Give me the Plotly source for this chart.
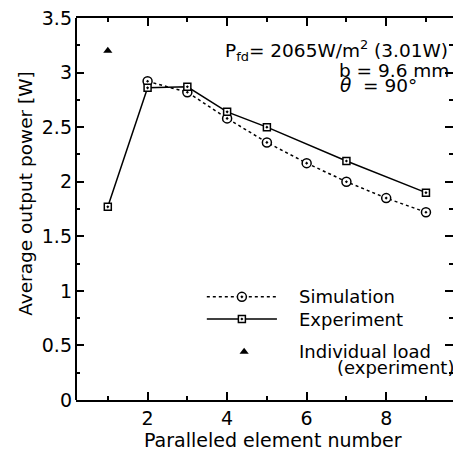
import plotly.graph_objects as go

# Data
sim_x = [2, 3, 4, 5, 6, 7, 8, 9]
sim_y = [2.92, 2.82, 2.58, 2.36, 2.17, 2.00, 1.85, 1.72]
exp_x = [1, 2, 3, 4, 5, 7, 9]
exp_y = [1.77, 2.86, 2.87, 2.64, 2.50, 2.19, 1.90]
ind_x = [1]
ind_y = [3.20]

FONT = "DejaVu Sans"
fig = go.Figure()

fig.add_trace(go.Scatter(x=sim_x, y=sim_y, mode="lines+markers",
    line=dict(color="black", width=1.5, dash="dot"),
    marker=dict(symbol="circle-dot", size=9, color="white", line=dict(color="black", width=1.5)),
    showlegend=False))
fig.add_trace(go.Scatter(x=exp_x, y=exp_y, mode="lines+markers",
    line=dict(color="black", width=1.5),
    marker=dict(symbol="square-dot", size=7, color="white", line=dict(color="black", width=1.5)),
    showlegend=False))
fig.add_trace(go.Scatter(x=ind_x, y=ind_y, mode="markers",
    marker=dict(symbol="triangle-up", size=8, color="black"),
    showlegend=False))

# custom legend on overlay axes (plot-area fractions)
fig.add_trace(go.Scatter(x=[0.347, 0.533], y=[0.270, 0.270], mode="lines",
    line=dict(color="black", width=1.5, dash="dot"), xaxis="x2", yaxis="y2", showlegend=False))
fig.add_trace(go.Scatter(x=[0.440], y=[0.270], mode="markers",
    marker=dict(symbol="circle-dot", size=9, color="white", line=dict(color="black", width=1.5)),
    xaxis="x2", yaxis="y2", showlegend=False))
fig.add_trace(go.Scatter(x=[0.347, 0.533], y=[0.212, 0.212], mode="lines",
    line=dict(color="black", width=1.5), xaxis="x2", yaxis="y2", showlegend=False))
fig.add_trace(go.Scatter(x=[0.440], y=[0.212], mode="markers",
    marker=dict(symbol="square-dot", size=7, color="white", line=dict(color="black", width=1.5)),
    xaxis="x2", yaxis="y2", showlegend=False))
fig.add_trace(go.Scatter(x=[0.446], y=[0.126], mode="markers",
    marker=dict(symbol="triangle-up", size=8, color="black"),
    xaxis="x2", yaxis="y2", showlegend=False))

tf = dict(family=FONT, size=18, color="black")
ann = [
    dict(x=0.586, y=0.270, text="Simulation", xanchor="left"),
    dict(x=0.586, y=0.212, text="Experiment", xanchor="left"),
    dict(x=0.586, y=0.126, text="Individual load", xanchor="left"),
    dict(x=0.687, y=0.086, text="(experiment)", xanchor="left"),
    dict(x=0.992, y=0.914, text="P<sub>fd</sub>= 2065W/m<sup>2</sup> (3.01W)", xanchor="right", size=18.5),
    dict(x=0.995, y=0.862, text="b = 9.6 mm", xanchor="right", size=18.5),
    dict(x=0.91, y=0.822, text="<i>θ</i>  = 90°", xanchor="right", size=18.5),
    dict(x=0.523, y=-0.105, text="Paralleled element number", xanchor="center", size=19),
    dict(x=-0.133, y=0.542, text="Average output power [W]", xanchor="center", size=18.5, textangle=-90),
]
annotations = []
for a in ann:
    f = dict(tf)
    if "size" in a:
        f["size"] = a.pop("size")
    annotations.append(dict(xref="paper", yref="paper", showarrow=False,
                            yanchor="middle", font=f, **a))
fig.update_layout(annotations=annotations)

fig.add_shape(type="line", xref="paper", yref="paper", x0=0, x1=0, y0=0, y1=1,
              line=dict(color="black", width=2))

fig.update_layout(
    width=453, height=450,
    margin=dict(l=76, r=0, t=18, b=50),
    paper_bgcolor="white", plot_bgcolor="white",
    font=dict(family=FONT, size=18, color="black"),
    xaxis=dict(range=[0.2, 9.68], tickvals=[2, 4, 6, 8], ticks="inside", ticklen=8,
               tickwidth=1.5, tickcolor="black", showline=True, linewidth=2, linecolor="black",
               mirror="ticks", showgrid=False, zeroline=False,
               minor=dict(tickvals=[1, 3, 5, 7, 9], ticks="inside", ticklen=4, tickwidth=1.5, tickcolor="black"),
               tickfont=dict(size=19), ticklabelstandoff=0),
    yaxis=dict(range=[0, 3.5], tickvals=[0, 0.5, 1, 1.5, 2, 2.5, 3, 3.5],
               ticktext=["0", "0.5", "1", "1.5", "2", "2.5", "3", "3.5"],
               ticks="inside", ticklen=8, tickwidth=1.5, tickcolor="black",
               showline=False, mirror="ticks", showgrid=False, zeroline=False,
               minor=dict(tickvals=[0.25, 0.75, 1.25, 1.75, 2.25, 2.75, 3.25], ticks="inside",
                          ticklen=4, tickwidth=1.5, tickcolor="black"),
               tickfont=dict(size=19), ticklabelstandoff=3),
    xaxis2=dict(overlaying="x", range=[0, 1], visible=False),
    yaxis2=dict(overlaying="y", range=[0, 1], visible=False),
)

fig.write_html("out.html")
